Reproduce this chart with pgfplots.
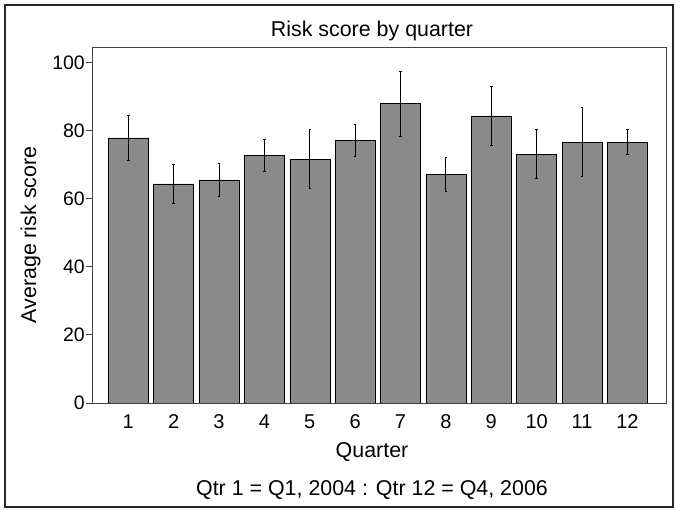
\documentclass[border=0pt]{standalone}
\usepackage{fontspec}
\setmainfont{Liberation Sans}
\usepackage{pgfplots}
\pgfplotsset{compat=1.18}
\definecolor{barfill}{gray}{0.54}
\begin{document}
\begin{tikzpicture}
\useasboundingbox (0pt,0pt) rectangle (675pt,510pt);
\draw[line width=1.6pt, black!85] (5pt,3pt) rectangle (673pt,505pt);
\begin{axis}[
  at={(92pt,107pt)}, anchor=south west,
  width=574pt, height=356pt, scale only axis,
  xmin=0.2, xmax=12.85, ymin=0, ymax=104.5,
  xtick={1,...,12}, ytick={0,20,...,100},
  tick pos=left, ytick align=outside, major tick length=6pt,
  xtick style={draw=none},
  axis line style={black!75, line width=0.8pt},
  ytick style={black!75, line width=0.8pt},
  /pgf/number format/assume math mode=true,
  xticklabel={\fontsize{20}{22}\selectfont\pgfmathprintnumber{\tick}},
  yticklabel={\fontsize{19.5}{22}\selectfont\pgfmathprintnumber{\tick}},
  yticklabel style={anchor=east, inner sep=0pt, xshift=-1pt},
  xticklabel style={anchor=base, inner sep=0pt, yshift=-19.5pt},
  ybar, bar width=40pt,
]
\addplot[draw=black, line width=0.6pt, fill=barfill,
  error bars/.cd, y dir=both, y explicit,
  error bar style={line width=0.9pt, black},
  error mark options={black, line width=0.8pt, mark size=1.2pt, rotate=90}]
coordinates {
(1,77.8) +- (0,6.6)
(2,64.3) +- (0,5.6)
(3,65.5) +- (0,4.8)
(4,72.7) +- (0,4.6)
(5,71.6) +- (0,8.6)
(6,77.1) +- (0,4.7)
(7,87.9) +- (0,9.5)
(8,67.2) +- (0,5.0)
(9,84.3) +- (0,8.7)
(10,73.0) +- (0,7.2)
(11,76.6) +- (0,10.2)
(12,76.6) +- (0,3.7)
};
\end{axis}
\node[anchor=base, font=\fontsize{21.4}{24}\selectfont, inner sep=0pt] at (372pt,473pt) {Risk score by quarter};
\node[anchor=base, font=\fontsize{21.4}{24}\selectfont, inner sep=0pt] at (372pt,52pt) {Quarter};
\node[anchor=base, font=\fontsize{21.4}{24}\selectfont, inner sep=0pt] at (372pt,14pt) {Qtr 1 = Q1, 2004 : Qtr 12 = Q4, 2006};
\node[anchor=base, rotate=90, font=\fontsize{21.4}{24}\selectfont, inner sep=0pt] at (36pt,275pt) {Average risk score};
\end{tikzpicture}
\end{document}
